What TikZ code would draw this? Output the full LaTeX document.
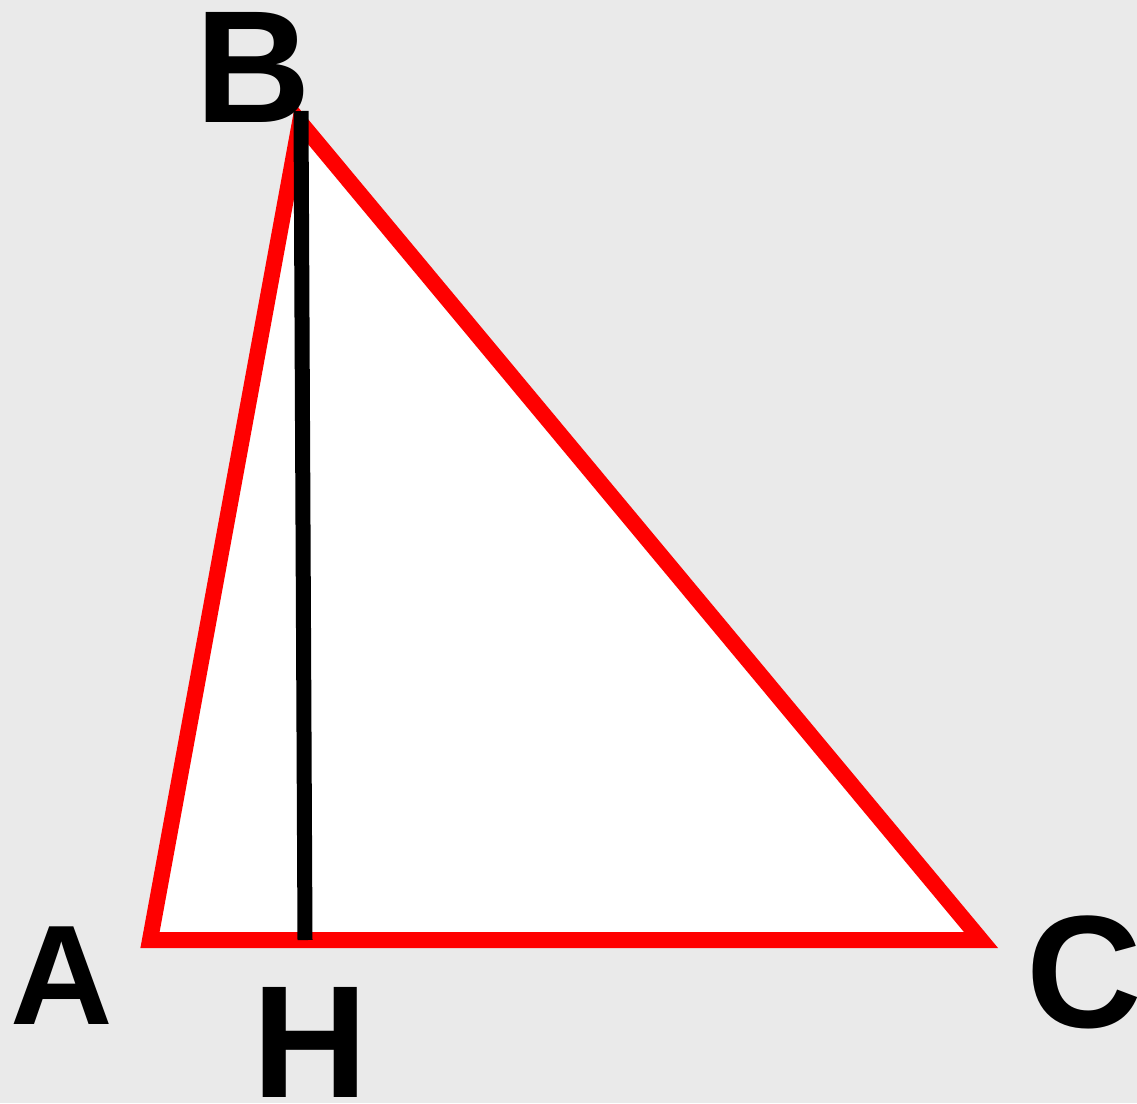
\documentclass[tikz,border=0pt]{standalone}
\usepackage{fontspec}
\setmainfont{Liberation Sans}
\definecolor{paper}{RGB}{234,234,234}
\definecolor{tri}{RGB}{255,0,0}
\begin{document}
\begin{tikzpicture}[x=1pt,y=-1pt,
  side/.style={draw=tri,line width=16pt,line join=miter,fill=white},
  altitude/.style={draw=black,line width=15pt,line cap=butt},
  lbl/.style={inner sep=0pt,font=\bfseries\fontsize{160}{160}\selectfont}]
\fill[paper] (0,0) rectangle (1137,1103);
\useasboundingbox (0,0) rectangle (1137,1103);
\coordinate (A) at (150,940);
\coordinate (B) at (300,122);
\coordinate (C) at (981,940);
\coordinate (Bt) at (301,111);
\coordinate (H) at (305,940);
\draw[side] (A) -- (B) -- (C) -- cycle;
\draw[altitude] (Bt) -- (H);
\node[lbl] (lB) at (253.5,67.5) {B};
\node[lbl,font=\bfseries\fontsize{142}{142}\selectfont] (lA) at (61.5,976) {A};
\node[lbl] (lH) at (310,1042) {H};
\node[lbl] (lC) at (1084,972.5) {C};
\end{tikzpicture}
\end{document}
